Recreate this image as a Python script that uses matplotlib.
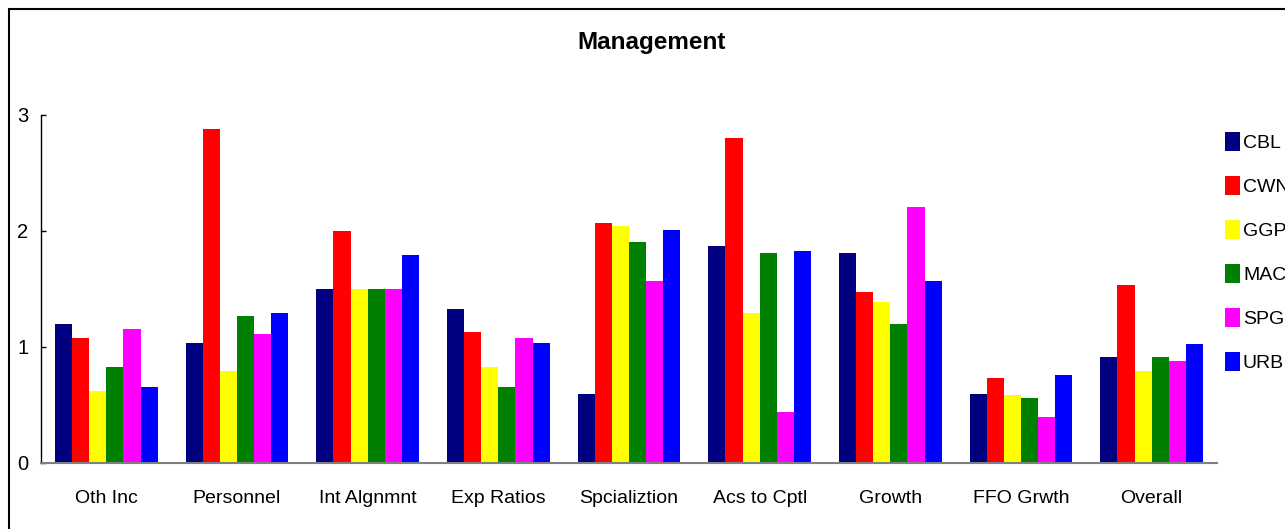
import matplotlib
matplotlib.use("Agg")
import matplotlib.pyplot as plt
from matplotlib.patches import Rectangle
import numpy as np

plt.rcParams['font.family'] = ['Liberation Sans', 'DejaVu Sans']

# Scores by management category
categories = ["Oth Inc", "Personnel", "Int Algnmnt", "Exp Ratios", "Spcializtion",
              "Acs to Cptl", "Growth", "FFO Grwth", "Overall"]
companies = ["CBL", "CWN", "GGP", "MAC", "SPG", "URB"]

cbl = [1.20, 1.03, 1.50, 1.33, 0.59, 1.87, 1.81, 0.59, 0.91]
cwn = [1.08, 2.88, 2.00, 1.13, 2.07, 2.80, 1.47, 0.73, 1.53]
ggp = [0.62, 0.79, 1.50, 0.83, 2.04, 1.29, 1.39, 0.58, 0.79]
mac = [0.83, 1.27, 1.50, 0.65, 1.90, 1.81, 1.20, 0.56, 0.91]
spg = [1.15, 1.11, 1.50, 1.08, 1.57, 0.44, 2.21, 0.39, 0.88]
urb = [0.65, 1.29, 1.79, 1.03, 2.01, 1.83, 1.57, 0.76, 1.02]

series = [cbl, cwn, ggp, mac, spg, urb]
colors = ["#000080", "#FF0000", "#FFFF00", "#008000", "#FF00FF", "#0000FF"]

W, H = 1285, 529
fig = plt.figure(figsize=(W / 100, H / 100), dpi=100)
fig.patch.set_facecolor("white")

# chart-area border (runs off the right and bottom edges)
fig.add_artist(Rectangle((9 / W, -0.2), 1.3, 1.2 - 9 / H, transform=fig.transFigure,
                         fill=False, edgecolor="#000000", linewidth=1.5))

ax = fig.add_axes([41 / W, 1 - 462.7 / H, (1217 - 41) / W, (462.7 - 115) / H])

x = np.arange(len(categories))
group_w = 0.788
bw = group_w / len(series)
handles = []
for i, (vals, c, name) in enumerate(zip(series, colors, companies)):
    offs = -group_w / 2 + bw * (i + 0.5)
    b = ax.bar(x + offs, vals, width=bw, color=c, edgecolor="none", label=name, zorder=1)
    handles.append(b)

ax.set_xlim(-0.5, len(categories) - 0.5)
ax.set_ylim(0, 3)
ax.set_yticks([0, 1, 2, 3])
ax.set_yticklabels(["0", "1", "2", "3"])
ax.set_xticks(x)
ax.set_xticklabels(categories)

ax.tick_params(axis="y", direction="in", length=3.6, width=1, colors="black",
               labelsize=14.5, pad=9)
ax.tick_params(axis="x", length=0, labelsize=14, pad=19.5)

for s in ["top", "right"]:
    ax.spines[s].set_visible(False)
ax.spines["left"].set_color("black")
ax.spines["left"].set_linewidth(1)
ax.spines["bottom"].set_color("#808080")
ax.spines["bottom"].set_linewidth(1.5)

fig.text(652 / W, 1 - 43 / H, "Management", ha="center", va="center",
         fontsize=17.5, fontweight="bold")

ax.legend(handles=handles, labels=companies, loc="upper left",
          bbox_to_anchor=(1225 / W, 1 - 131.5 / H), bbox_transform=fig.transFigure,
          frameon=False, fontsize=14, handlelength=0.77, handleheight=1.127,
          handletextpad=0.15, labelspacing=1.23, borderpad=0, borderaxespad=0)

fig.savefig("out.png", dpi=100, facecolor="white")
